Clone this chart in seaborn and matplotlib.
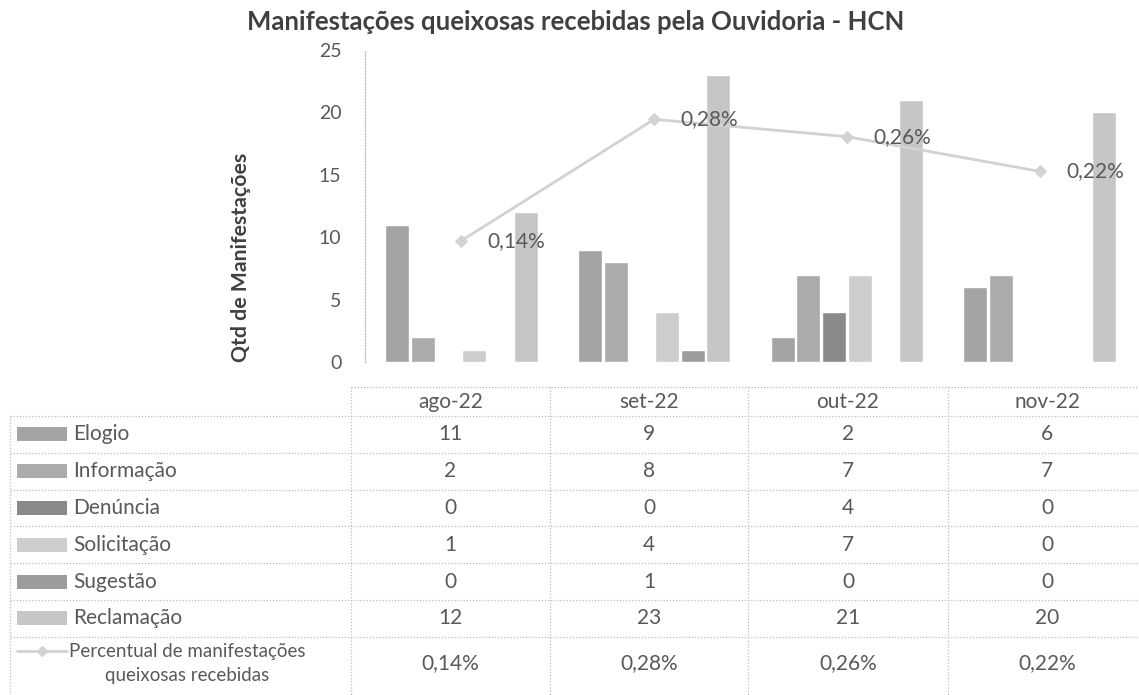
import matplotlib
matplotlib.use("Agg")
import matplotlib.pyplot as plt
from matplotlib.patches import Rectangle
import numpy as np
import pandas as pd
import seaborn as sns

# ---- data -------------------------------------------------------------
meses = ["ago-22", "set-22", "out-22", "nov-22"]
tipos = ["Elogio", "Informação", "Denúncia", "Solicitação", "Sugestão", "Reclamação"]
elogio = [11, 9, 2, 6]
informacao = [2, 8, 7, 7]
denuncia = [0, 0, 4, 0]
solicitacao = [1, 4, 7, 0]
sugestao = [0, 1, 0, 0]
reclamacao = [12, 23, 21, 20]
percentual = [0.14, 0.28, 0.26, 0.22]   # % de manifestações queixosas
linha_rotulo = ["Percentual de manifestações", "queixosas recebidas"]
titulo = "Manifestações queixosas recebidas pela Ouvidoria - HCN"
rotulo_y = "Qtd de Manifestações"
yticks = [0, 5, 10, 15, 20, 25]

series = [elogio, informacao, denuncia, solicitacao, sugestao, reclamacao]
cores = ["#a4a4a4", "#ababab", "#8a8a8a", "#cdcdcd", "#9c9c9c", "#c6c6c6"]
cor_linha = "#d2d2d2"
cor_texto = "#595959"
cor_grade = "#bdbdbd"

df = pd.DataFrame(
    [(m, t, v) for t, vals in zip(tipos, series) for m, v in zip(meses, vals)],
    columns=["mes", "tipo", "qtd"],
)

sns.set_theme(style="white")
plt.rcParams["font.family"] = ["Lato", "DejaVu Sans"]

W, H = 1139, 695
fig = plt.figure(figsize=(W / 100, H / 100), dpi=100)


def fx(px):
    return px / W


def fy(py):
    return 1 - py / H


# ---- table drawn in a full-figure pixel-space axes ----------------------
tab = fig.add_axes([0, 0, 1, 1], zorder=0)
tab.set_xlim(0, W)
tab.set_ylim(H, 0)
tab.axis("off")

col_edges = [10, 351, 550, 748, 948, 1146]
head_top, head_bot = 387, 416
row_h = 36.8
row_edges = [head_bot + row_h * k for k in range(7)] + [H + 5]
line_kw = dict(color=cor_grade, linestyle=(0, (1, 1.5)), linewidth=0.9)

tab.plot([col_edges[1], W], [head_top, head_top], **line_kw)
for y in row_edges[:-1]:
    tab.plot([col_edges[0], W], [y, y], **line_kw)
tab.plot([col_edges[0], col_edges[0]], [head_bot, H], **line_kw)
for x in col_edges[1:-1]:
    tab.plot([x, x], [head_top, H], **line_kw)

col_centers = [(col_edges[i] + col_edges[i + 1]) / 2 for i in range(1, 5)]
fs_tab = 15
for xc, m in zip(col_centers, meses):
    tab.text(xc, (head_top + head_bot) / 2, m, ha="center", va="center",
             fontsize=fs_tab, color=cor_texto)

for k, (t, vals, c) in enumerate(zip(tipos, series, cores)):
    yc = (row_edges[k] + row_edges[k + 1]) / 2
    tab.add_patch(Rectangle((17, yc - 7), 50, 14, color=c, lw=0))
    tab.text(73, yc, t, ha="left", va="center", fontsize=fs_tab, color=cor_texto)
    for xc, v in zip(col_centers, vals):
        tab.text(xc, yc, str(v), ha="center", va="center", fontsize=fs_tab,
                 color=cor_texto)

y1, y2 = 651, 676
tab.plot([17, 67], [y1, y1], color=cor_linha, lw=2)
tab.plot([42], [y1], marker="D", ms=5, color=cor_linha)
tab.text(187, y1, linha_rotulo[0], ha="center", va="center", fontsize=13.5,
         color=cor_texto)
tab.text(187, y2, linha_rotulo[1], ha="center", va="center", fontsize=13.5,
         color=cor_texto)
for xc, v in zip(col_centers, percentual):
    tab.text(xc, (y1 + y2) / 2, f"{v:.2f}%".replace(".", ","), ha="center",
             va="center", fontsize=fs_tab, color=cor_texto)

# ---- bar chart --------------------------------------------------------
ax = fig.add_axes([fx(365), fy(362), (1136 - 365) / W, (362 - 50) / H], zorder=2)
ax.patch.set_alpha(0)
sns.barplot(data=df, x="mes", y="qtd", hue="tipo", order=meses, hue_order=tipos,
            palette=cores, width=0.8, gap=0.07, saturation=1, errorbar=None,
            legend=False, ax=ax)
ax.set_ylim(0, 25)
ax.set_yticks(yticks)
ax.set_xticks([])
ax.set_xlabel("")
ax.set_ylabel("")
for s in ["top", "right", "bottom"]:
    ax.spines[s].set_visible(False)
ax.spines["left"].set_color(cor_grade)
ax.spines["left"].set_linestyle((0, (1, 1.5)))
ax.spines["left"].set_linewidth(0.9)
ax.tick_params(axis="y", length=0, pad=17, labelsize=14, labelcolor=cor_texto)

# ---- percentage line on a hidden secondary axis ----------------------
ax2 = ax.twinx()
sns.lineplot(x=np.arange(len(meses)), y=percentual, ax=ax2, color=cor_linha,
             linewidth=2, marker="D", markersize=6, markeredgecolor=cor_linha)
ax2.set_ylim(0, 0.36)
ax2.set_xlim(-0.5, len(meses) - 0.5)
ax2.axis("off")
for i, v in enumerate(percentual):
    ax2.annotate(f"{v:.2f}%".replace(".", ","), xy=(i, v), xytext=(19, 0),
                 textcoords="offset points", ha="left", va="center",
                 fontsize=15, color=cor_texto)

fig.text(fx(241), fy(257), rotulo_y, rotation=90, ha="center", va="center",
         fontsize=15.3, fontweight="bold", color="#404040")
fig.text(fx(576), fy(22), titulo, ha="center", va="center", fontsize=18.5,
         fontweight="bold", color="#404040")

fig.savefig("out.png", dpi=100)
